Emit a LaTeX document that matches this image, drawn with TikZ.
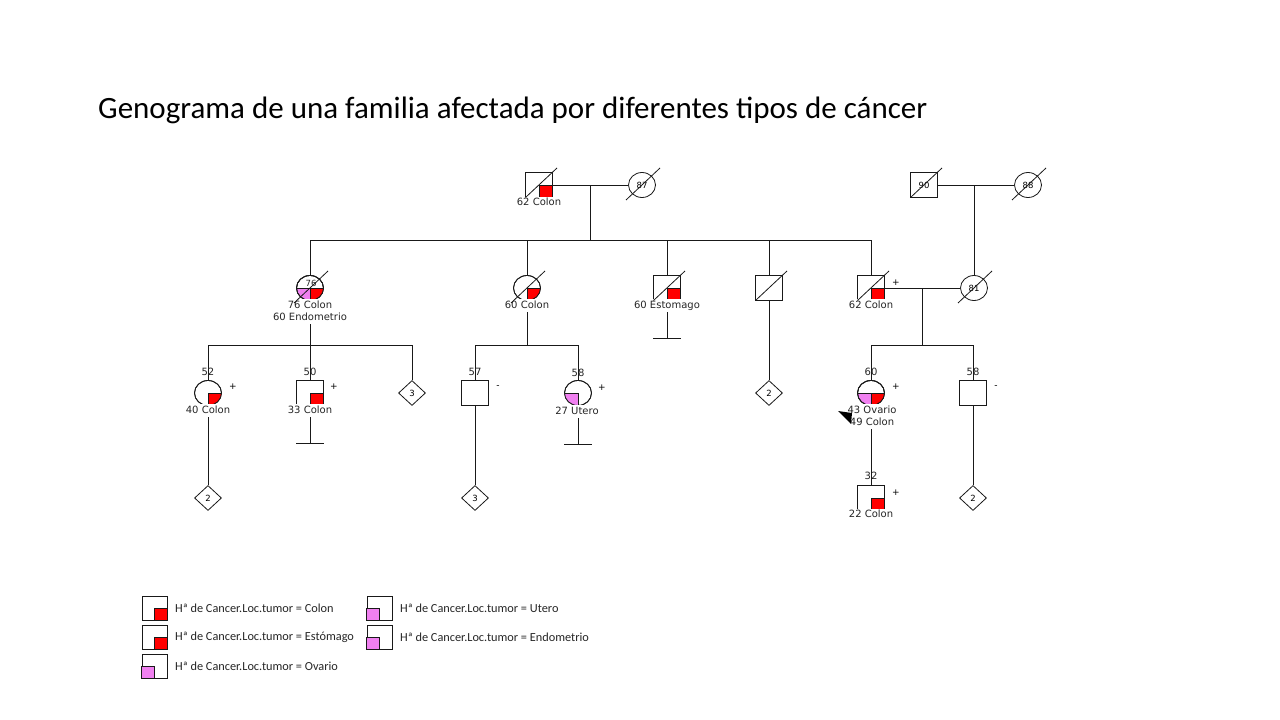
\documentclass[tikz,border=0pt]{standalone}
\usepackage{fontspec}
\setmainfont{DejaVu Sans}
\newfontfamily\carlito{Carlito}
\usetikzlibrary{shapes.geometric}
\definecolor{cred}{RGB}{255,0,0}
\definecolor{cpink}{RGB}{240,128,240}
\definecolor{lncol}{RGB}{25,25,25}
\pgfdeclarelayer{bg}
\pgfsetlayers{bg,main}
\tikzset{
  conn/.style={draw=lncol, line width=0.8pt},
  person/.style={draw=lncol, line width=0.8pt, fill=white, minimum width=27pt, minimum height=25pt, inner sep=0pt, font=\fontsize{8.5}{10}\selectfont},
  male/.style={person, rectangle},
  female/.style={person, ellipse},
  unk/.style={person, diamond},
  lbl/.style={font=\fontsize{10}{11}\selectfont, fill=white, inner xsep=0.8pt, inner ysep=1.2pt, text=black!85, text height=7.5pt, text depth=2.2pt},
  age/.style={font=\fontsize{10}{11}\selectfont, inner sep=0pt, text=black!85},
  sgn/.style={font=\fontsize{9}{10}\selectfont, inner sep=0pt},
  lbox/.style={draw=lncol, line width=0.8pt, fill=white, minimum width=25pt, minimum height=24pt, inner sep=0pt},
  ltxt/.style={font=\carlito\fontsize{12.3}{14}\selectfont, anchor=west, inner sep=0pt, text=black!85},
}
% quadrant of a circle: node, colour, side (1 right, -1 left)
\newcommand\cq[3]{%
  \begin{scope}\clip (#1.center) rectangle ++(#3*16,16);
  \fill[#2] (#1.center) ellipse[x radius=13.5pt, y radius=12.5pt];\end{scope}
  \draw[conn] (#1.center) ellipse[x radius=13.5pt, y radius=12.5pt];
  \draw[conn] (#1.center) -- ++(#3*13.5,0) (#1.center) -- (#1.south);}
% quadrant of a square
\newcommand\sq[3]{%
  \filldraw[fill=#2, draw=lncol, line width=0.8pt] (#1.center) rectangle ++(#3*13.5,12.5);}
\newcommand\deadc[1]{\draw[conn] ([shift={(-16,15)}]#1.center) -- ([shift={(18,-17)}]#1.center);}
\newcommand\deads[1]{\draw[conn] ([shift={(-13.5,12.5)}]#1.center) -- ([shift={(18,-17)}]#1.center);}

\begin{document}
\begin{tikzpicture}[x=1pt, y=-1pt]
\useasboundingbox (0,0) rectangle (1280,720);

\node[anchor=base west, inner sep=0pt, font=\carlito\fontsize{31}{36}\selectfont] (title) at (98,118)
  {Genograma de una familia afectada por diferentes tipos de cáncer};

% ---------- generation 1
\node[male] (gA) at (539,185) {};
\node[female] (gB) at (642,185) {87};
\node[male] (gC) at (924,185) {90};
\node[female] (gD) at (1028,185) {88};
\coordinate (mAB) at (590,185);
\coordinate (mCD) at (974,185);
\coordinate (sib1) at (0,240);
\coordinate (sib2) at (0,345);

% ---------- generation 2
\node[female] (pA) at (310,288) {};
\node[female] (pB) at (527,288) {};
\node[male] (pC) at (667,288) {};
\node[male] (pD) at (769,288) {};
\node[male] (pE) at (871,288) {};
\node[female] (pF) at (974,288) {81};
\coordinate (mEF) at (922,288);
\coordinate (nC) at (667,338);

% ---------- generation 3
\node[female] (cA1) at (208,393) {};
\node[male] (cA2) at (310,393) {};
\node[unk] (cA3) at (412,393) {3};
\node[male] (cB1) at (475,393) {};
\node[female] (cB2) at (578,393) {};
\node[unk] (cD1) at (769,393) {2};
\node[female] (cE1) at (871,393) {};
\node[male] (cE2) at (973,393) {};
\coordinate (nA2) at (310,443);
\coordinate (nB2) at (578,444);

% ---------- generation 4
\node[unk] (dA1) at (208,498) {2};
\node[unk] (dB1) at (475,498) {3};
\node[male] (dE1) at (871,498) {};
\node[unk] (dE2) at (973,498) {2};

% ---------- connectors
\begin{pgfonlayer}{bg}
\fill[white] (0,0) rectangle (1280,720);
\draw[conn] (gA) -- (gB);
\draw[conn] (gC) -- (gD);
\draw[conn] (mAB) -- (mAB |- sib1);
\draw[conn] (pA.north) -- (pA.north |- sib1) -- (pE.north |- sib1) -- (pE.north);
\draw[conn] (pB.north) -- (pB.north |- sib1);
\draw[conn] (pC.north) -- (pC.north |- sib1);
\draw[conn] (pD.north) -- (pD.north |- sib1);
\draw[conn] (mCD) -- (pF.north);
\draw[conn] (pE) -- (pF);
\draw[conn] (mEF) -- (mEF |- sib2);
\draw[conn] (cE1.north) -- (cE1.north |- sib2) -- (cE2.north |- sib2) -- (cE2.north);
\draw[conn] (pA.south) -- (pA.south |- sib2);
\draw[conn] (cA1.north) -- (cA1.north |- sib2) -- (cA3.north |- sib2) -- (cA3.north);
\draw[conn] (cA2.north) -- (cA2.north |- sib2);
\draw[conn] (pB.south) -- (pB.south |- sib2);
\draw[conn] (cB1.north) -- (cB1.north |- sib2) -- (cB2.north |- sib2) -- (cB2.north);
\draw[conn] (pC.south) -- (nC);
\draw[conn] ([xshift=-14pt]nC) -- ([xshift=14pt]nC);
\draw[conn] (pD) -- (cD1);
\draw[conn] (cA1) -- (dA1);
\draw[conn] (cA2) -- (nA2);
\draw[conn] ([xshift=-14pt]nA2) -- ([xshift=14pt]nA2);
\draw[conn] (cB1) -- (dB1);
\draw[conn] (cB2) -- (nB2);
\draw[conn] ([xshift=-14pt]nB2) -- ([xshift=14pt]nB2);
\draw[conn] (cE1) -- (dE1);
\draw[conn] (cE2) -- (dE2);
\end{pgfonlayer}

% ---------- affection fills
\sq{gA}{cred}{1}
\sq{pC}{cred}{1}
\sq{pE}{cred}{1}
\sq{cA2}{cred}{1}
\sq{dE1}{cred}{1}
\cq{pA}{cpink}{-1}\cq{pA}{cred}{1}
\draw[conn] (pA.west) -- (pA.east);
\cq{pB}{cred}{1}
\cq{cA1}{cred}{1}
\cq{cB2}{cpink}{-1}
\cq{cE1}{cpink}{-1}\cq{cE1}{cred}{1}
\draw[conn] (cE1.west) -- (cE1.east);
\node[age, font=\fontsize{8.5}{10}\selectfont] (pAn) at (311,283) {76};

% ---------- labels
\node[lbl] (gAl) at (539,203) {62 Colon};
\node[lbl] (pAl1) at (310,305.5) {76 Colon};
\node[lbl] (pAl2) at (310,317.5) {60 Endometrio};
\node[lbl] (pBl) at (527,305.5) {60 Colon};
\node[lbl] (pCl) at (667,305.5) {60 Estomago};
\node[lbl] (pEl) at (871,305.5) {62 Colon};
\node[sgn] (pEs) at (896,282.5) {+};

\node[age] (cA1a) at (208,372) {52};
\node[sgn] (cA1s) at (233,387) {+};
\node[lbl] (cA1l) at (208,410.5) {40 Colon};
\node[age] (cA2a) at (310,372) {50};
\node[sgn] (cA2s) at (334,387) {+};
\node[lbl] (cA2l) at (310,410.5) {33 Colon};
\node[age] (cB1a) at (475,372) {57};
\node[sgn] (cB1s) at (498,387) {-};
\node[age] (cB2a) at (578,373) {58};
\node[sgn] (cB2s) at (602,388) {+};
\node[lbl] (cB2l) at (577,411.5) {27 Utero};
\node[age] (cE1a) at (871,372) {60};
\node[sgn] (cE1s) at (896,387) {+};
\node[lbl] (cE1l1) at (872,410.5) {43 Ovario};
\node[lbl] (cE1l2) at (872,422.5) {49 Colon};
\node[age] (cE2a) at (973,372) {58};
\node[sgn] (cE2s) at (996,387) {-};
\node[age] (dE1a) at (871,476) {32};
\node[sgn] (dE1s) at (896,492.5) {+};
\node[lbl] (dE1l) at (871,515) {22 Colon};

% proband arrow
\fill[black] (838,411) -- (852,413) -- (851,424) -- cycle;

% ---------- deceased marks
\deads{gA}\deadc{gB}\deads{gC}\deadc{gD}
\deadc{pA}\deadc{pB}\deads{pC}\deads{pD}\deads{pE}\deadc{pF}

% ---------- legend
\node[lbox] (k1) at (154.5,608) {};
\node[lbox] (k2) at (154.5,637) {};
\node[lbox] (k3) at (154.5,666) {};
\node[lbox] (k4) at (379.5,608) {};
\node[lbox] (k5) at (379.5,637) {};
\filldraw[fill=cred, draw=lncol, line width=0.8pt] (k1.center) rectangle (k1.south east);
\filldraw[fill=cred, draw=lncol, line width=0.8pt] (k2.center) rectangle (k2.south east);
\filldraw[fill=cpink, draw=lncol, line width=0.8pt] (k3.south west) rectangle (k3.center);
\filldraw[fill=cpink, draw=lncol, line width=0.8pt] (k4.south west) rectangle (k4.center);
\filldraw[fill=cpink, draw=lncol, line width=0.8pt] (k5.south west) rectangle (k5.center);
\node[ltxt] (t1) at (175,608) {Hª de Cancer.Loc.tumor = Colon};
\node[ltxt] (t2) at (175,637) {Hª de Cancer.Loc.tumor = Estómago};
\node[ltxt] (t3) at (175,666) {Hª de Cancer.Loc.tumor = Ovario};
\node[ltxt] (t4) at (400,608) {Hª de Cancer.Loc.tumor = Utero};
\node[ltxt] (t5) at (400,637) {Hª de Cancer.Loc.tumor = Endometrio};
\end{tikzpicture}
\end{document}
